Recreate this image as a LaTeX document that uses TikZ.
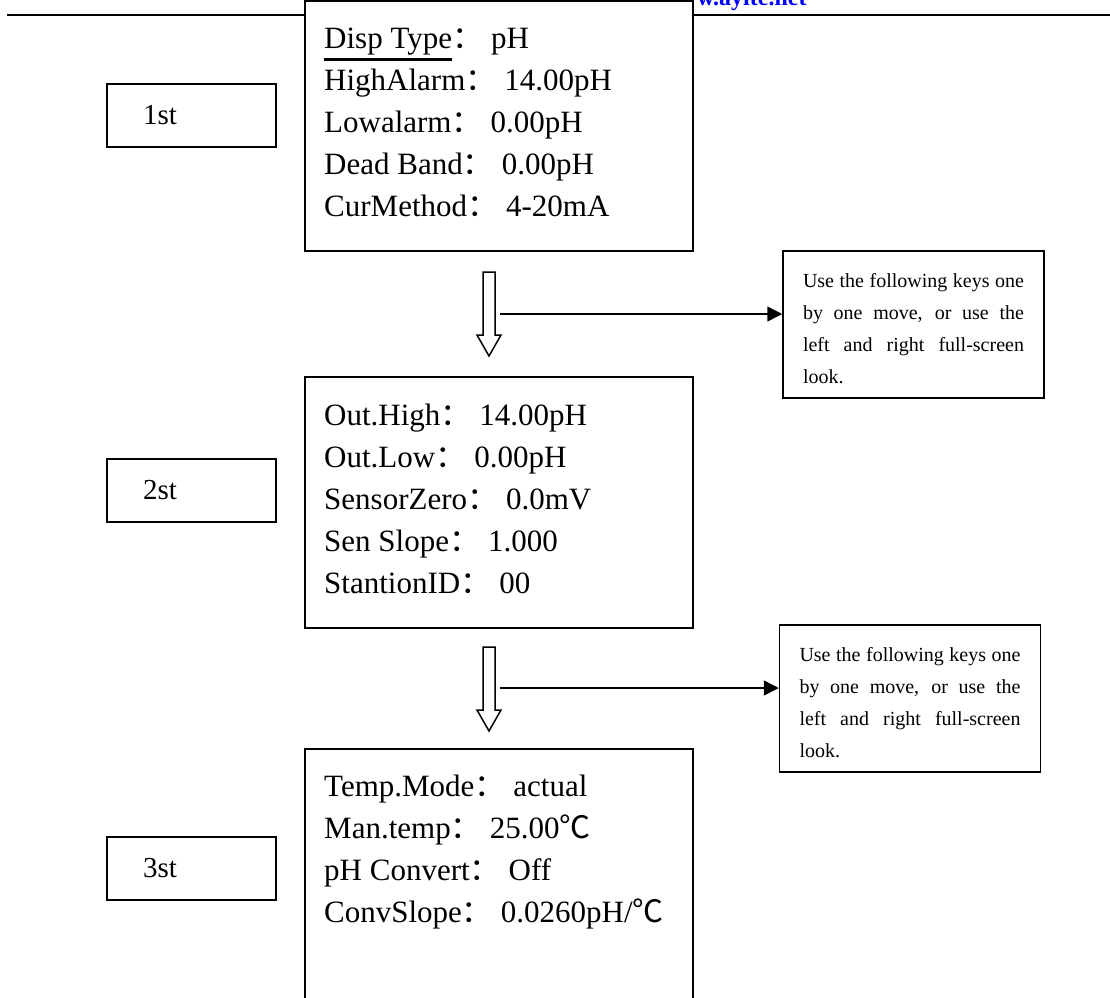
\documentclass[tikz,border=0pt]{standalone}
\usepackage{fontspec}
\setmainfont{Liberation Serif}
\newfontfamily\cjk{Noto Sans CJK SC}
\usepackage{tikz}
\usetikzlibrary{arrows.meta, positioning}

\newcommand{\sep}{{\cjk ：}\hspace{8pt}}
\newcommand{\degc}{{\cjk ℃}}
\newcommand{\ulbar}[1]{\setbox0\hbox{#1}\rlap{\rule[-13pt]{\wd0}{3pt}}\box0}

\tikzset{
  panel/.style={draw, line width=2pt, fill=white, minimum width=388pt, inner sep=0pt},
  panelline/.style={anchor=base west, inner sep=0pt, font=\fontsize{31}{42}\selectfont},
  lblbox/.style={draw, line width=1.5pt, minimum width=169pt, minimum height=63pt,
    text width=97pt, align=left, font=\fontsize{29}{34}\selectfont},
  notebox/.style={draw, line width=1.5pt, fill=white, text width=221pt, inner xsep=20pt,
    minimum height=147pt, align=justify, font=\fontsize{20}{32}\selectfont},
  hollow/.style={draw, line width=1.5pt, fill=white},
  link/.style={-{Triangle[length=15pt,width=15pt]}, line width=1.5pt},
}

\begin{document}
\begin{tikzpicture}[x=1pt, y=-1pt]
  \useasboundingbox (0,0) rectangle (1110,997);
  \clip (0,0) rectangle (1110,997);

  % Page header
  \draw[line width=2.5pt] (7,15) -- (1110,15);
  \node[anchor=base west, inner sep=0pt, text=blue, font=\fontsize{24}{24}\selectfont\bfseries] (web) at (697,5) {w.ayite.net};

  % Screens
  \node[panel, minimum height=250pt] (p1) at (499,126) {};
  \node[panel, minimum height=251pt] (p2) at (499,502.5) {};
  \node[panel, minimum height=260pt] (p3) at (499,879) {};

  \foreach \t [count=\i] in {\ulbar{Disp Type}\sep pH, HighAlarm\sep 14.00pH, Lowalarm\sep 0.00pH,
      Dead Band\sep 0.00pH, CurMethod\sep 4-20mA}
    \node[panelline] (p1-\i) at (324,{48+42*(\i-1)}) {\t};

  \foreach \t [count=\i] in {Out.High\sep 14.00pH, Out.Low\sep 0.00pH, SensorZero\sep 0.0mV,
      Sen Slope\sep 1.000, StantionID\sep 00}
    \node[panelline] (p2-\i) at (324,{425+42*(\i-1)}) {\t};

  \foreach \t [count=\i] in {Temp.Mode\sep actual, Man.temp\sep 25.00\degc, pH Convert\sep Off,
      ConvSlope\sep 0.0260pH/\degc}
    \node[panelline] (p3-\i) at (324,{796+42*(\i-1)}) {\t};

  % Step labels
  \node[lblbox] (l1) at (191.5,115.5) {1st};
  \node[lblbox] (l2) at (191.5,490.5) {2st};
  \node[lblbox] (l3) at (191.5,868.5) {3st};

  % Notes
  \node[notebox] (n1) at (913.5,324.5) {\rule{0pt}{22pt}Use the following keys one\linebreak
    by one move, or use the\linebreak left and right full-screen\linebreak look.};
  \node[notebox] (n2) at (910,698.5) {\rule{0pt}{22pt}Use the following keys one\linebreak
    by one move, or use the\linebreak left and right full-screen\linebreak look.};

  % Hollow down arrows
  \foreach \dy in {0,375}
    \draw[hollow] (483,{272+\dy}) -- (495,{272+\dy}) -- (495,{335+\dy}) -- (501,{335+\dy})
      -- (489,{356+\dy}) -- (477,{335+\dy}) -- (483,{335+\dy}) -- cycle;

  % Side arrows
  \coordinate (s1) at (500,314);
  \coordinate (s2) at (500,688);
  \draw[link] (s1) -- (s1 -| n1.west);
  \draw[link] (s2) -- (s2 -| n2.west);
\end{tikzpicture}
\end{document}
